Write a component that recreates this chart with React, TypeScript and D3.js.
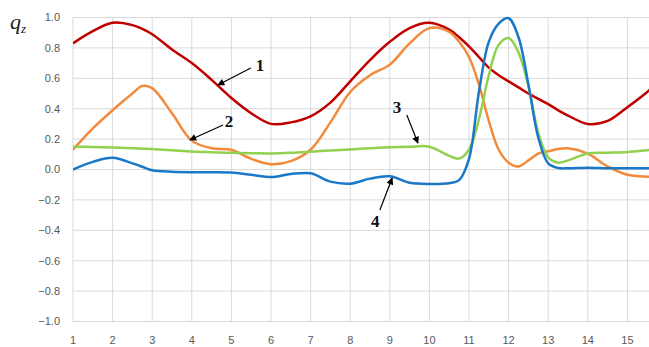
import React from 'react';
import * as d3 from 'd3';

const xs = [1, 1.5, 2, 2.5, 2.75, 3, 3.5, 4, 4.5, 5, 5.5, 6, 6.5, 7, 7.5, 8, 8.5, 9, 9.5, 10, 10.5, 10.75,
  11, 11.25, 11.5, 11.75, 12, 12.25, 12.5, 12.75, 13, 13.25, 13.5, 14, 14.5, 15, 15.5, 15.75];

const curve1 = [0.83, 0.91, 0.965, 0.95, 0.925, 0.89, 0.79, 0.70, 0.59, 0.47, 0.37, 0.30, 0.31, 0.35, 0.44, 0.58, 0.72, 0.84, 0.93, 0.965, 0.92, 0.87,
  0.81, 0.74, 0.67, 0.62, 0.58, 0.54, 0.50, 0.465, 0.43, 0.39, 0.355, 0.30, 0.32, 0.41, 0.51, 0.57];
const curve2 = [0.13, 0.27, 0.39, 0.50, 0.55, 0.535, 0.37, 0.19, 0.14, 0.13, 0.07, 0.035, 0.055, 0.13, 0.31, 0.51, 0.62, 0.69, 0.83, 0.93, 0.905, 0.84,
  0.74, 0.56, 0.32, 0.13, 0.045, 0.02, 0.06, 0.105, 0.12, 0.135, 0.14, 0.105, 0.02, -0.035, -0.047, -0.047];
const curve3 = [0.15, 0.148, 0.145, 0.14, 0.137, 0.135, 0.127, 0.118, 0.113, 0.11, 0.107, 0.106, 0.11, 0.117, 0.125, 0.132, 0.14, 0.147, 0.15, 0.15, 0.09, 0.072,
  0.13, 0.33, 0.62, 0.82, 0.865, 0.77, 0.55, 0.24, 0.08, 0.045, 0.06, 0.105, 0.11, 0.115, 0.127, 0.133];
const curve4 = [0.0, 0.05, 0.077, 0.04, 0.018, -0.005, -0.015, -0.018, -0.018, -0.02, -0.035, -0.05, -0.03, -0.025, -0.08, -0.093, -0.06, -0.045, -0.087, -0.095, -0.09, -0.07,
  0.07, 0.51, 0.84, 0.96, 0.995, 0.87, 0.56, 0.21, 0.04, 0.01, 0.008, 0.012, 0.008, 0.008, 0.008, 0.008];

const seriesColors = ['#C00000', '#F28A3C', '#92D050', '#1A78C8'];
const seriesValues = [curve1, curve2, curve3, curve4];

const xTicks = d3.range(1, 16);
const yTicks = d3.range(-1, 1.0001, 0.2);

// annotation: label text, label point, arrow tail, arrow tip (data units)
const noteLabels = ['1', '2', '3', '4'];
const noteLabelPos = [[5.72, 0.69], [4.94, 0.32], [9.18, 0.41], [8.63, -0.34]];
const noteTail = [[5.49, 0.668], [4.79, 0.293], [9.43, 0.359], [8.75, -0.266]];
const noteTip = [[4.66, 0.556], [3.95, 0.194], [9.71, 0.174], [9.06, -0.056]];

const W = 649;
const H = 347;

export default function App() {
  const x = d3.scaleLinear().domain([1, 16]).range([73, 667]);
  const y = d3.scaleLinear().domain([-1, 1]).range([321.5, 17.5]);

  const line = d3.line<number>()
    .x((_, i) => x(xs[i]))
    .y(d => y(d))
    .curve(d3.curveCatmullRom.alpha(0.5));

  return (
    <svg width={W} height={H} style={{ position: 'absolute', left: 0, top: 0, background: '#fff' }}>
      <defs>
        <marker id="arr" viewBox="0 0 10 10" refX="9" refY="5" markerWidth="9" markerHeight="7" orient="auto" markerUnits="userSpaceOnUse">
          <path d="M0,0 L10,5 L0,10 z" fill="#000" />
        </marker>
        <clipPath id="plot">
          <rect x={x(1)} y={0} width={W - x(1)} height={H} />
        </clipPath>
      </defs>

      {/* grid */}
      {yTicks.map(t => (
        <line key={'gy' + t} x1={x(1)} x2={W} y1={y(t)} y2={y(t)} stroke="#D9D9D9" strokeWidth={1} />
      ))}
      {xTicks.map(t => (
        <line key={'gx' + t} x1={x(t)} x2={x(t)} y1={y(1)} y2={y(-1)} stroke="#D9D9D9" strokeWidth={1} />
      ))}

      {/* y tick labels */}
      {yTicks.map(t => (
        <text key={'ly' + t} x={60} y={y(t)} dy="0.35em" textAnchor="end"
          fontFamily="'Liberation Sans', Arial, sans-serif" fontSize={11} fill="#595959">
          {d3.format('.1f')(Math.abs(t) < 1e-9 ? 0 : t)}
        </text>
      ))}
      {/* x tick labels */}
      {xTicks.map(t => (
        <text key={'lx' + t} x={x(t)} y={340} dy="0.35em" textAnchor="middle"
          fontFamily="'Liberation Sans', Arial, sans-serif" fontSize={11} fill="#595959">
          {t}
        </text>
      ))}

      {/* curves */}
      <g clipPath="url(#plot)">
        {seriesValues.map((vals, i) => (
          <path key={'s' + i} d={line(vals) || ''} fill="none" stroke={seriesColors[i]} strokeWidth={2.5} strokeLinejoin="round" />
        ))}
      </g>

      {/* annotations */}
      {noteLabels.map((lab, i) => (
        <g key={'n' + i}>
          <line x1={x(noteTail[i][0])} y1={y(noteTail[i][1])} x2={x(noteTip[i][0])} y2={y(noteTip[i][1])}
            stroke="#000" strokeWidth={1.2} markerEnd="url(#arr)" />
          <text x={x(noteLabelPos[i][0])} y={y(noteLabelPos[i][1])} dy="0.35em" textAnchor="middle"
            fontFamily="'Liberation Serif', 'Times New Roman', serif" fontWeight="bold" fontSize={17} fill="#111">
            {lab}
          </text>
        </g>
      ))}

      {/* axis title */}
      <text x={10} y={29} fontFamily="'Liberation Serif', 'Times New Roman', serif" fontStyle="italic" fontSize={22} fill="#222">
        q<tspan fontSize={13} dy={4}>z</tspan>
      </text>
    </svg>
  );
}
